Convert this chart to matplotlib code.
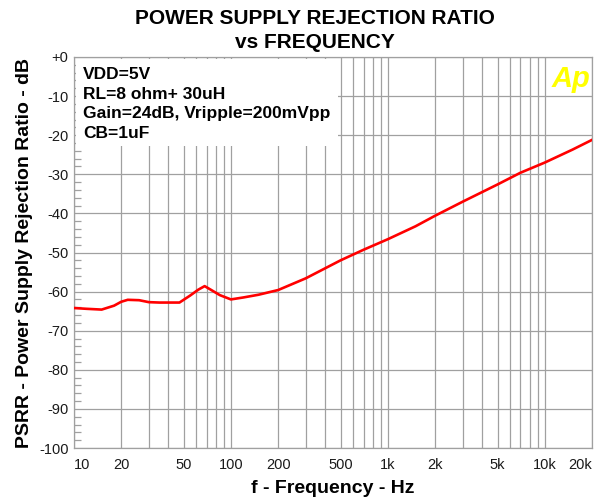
import matplotlib
matplotlib.use("Agg")
import matplotlib.pyplot as plt
from matplotlib.patches import Rectangle
from matplotlib.ticker import MultipleLocator, LogLocator, NullFormatter

plt.rcParams["font.family"] = ["Liberation Sans", "DejaVu Sans"]

# data
freq_hz = [10, 12, 15, 18, 20, 22, 26, 30, 35, 47, 55, 62, 68, 75, 85,
           100, 120, 150, 200, 300, 500, 700, 1000, 1500, 2000, 3000,
           5000, 7000, 10000, 15000, 20000]
psrr_db = [-64.2, -64.4, -64.6, -63.6, -62.6, -62.1, -62.2, -62.7, -62.8,
           -62.8, -61.0, -59.5, -58.6, -59.6, -60.9, -62.0, -61.5, -60.8,
           -59.6, -56.6, -52.0, -49.3, -46.6, -43.3, -40.6, -37.0, -32.6,
           -29.6, -27.0, -23.7, -21.2]

x_ticks = [10, 20, 50, 100, 200, 500, 1000, 2000, 5000, 10000, 20000]
x_labels = ["10", "20", "50", "100", "200", "500", "1k", "2k", "5k", "10k", "20k"]
y_ticks = [0, -10, -20, -30, -40, -50, -60, -70, -80, -90, -100]
y_labels = ["+0", "-10", "-20", "-30", "-40", "-50", "-60", "-70", "-80", "-90", "-100"]

conditions = ["VDD=5V", "RL=8 ohm+ 30uH", "Gain=24dB, Vripple=200mVpp", "CB=1uF"]

grid_color = "#a0a0a0"
text_color = "#1a1a1a"

fig = plt.figure(figsize=(6.03, 5.01), dpi=100)
ax = fig.add_subplot(111)
fig.subplots_adjust(left=74 / 603, right=592 / 603, top=1 - 57 / 501, bottom=1 - 448 / 501)

ax.set_xscale("log")
ax.set_xlim(10, 20000)
ax.set_ylim(-100, 0)

# grid
ax.xaxis.set_minor_locator(LogLocator(base=10, subs=range(1, 10), numticks=20))
ax.xaxis.set_minor_formatter(NullFormatter())
ax.set_xticks(x_ticks, x_labels)
ax.set_yticks(y_ticks, y_labels)
ax.yaxis.set_minor_locator(MultipleLocator(2))
ax.set_axisbelow(True)
ax.grid(True, which="both", axis="x", color=grid_color, linewidth=0.9)
ax.grid(True, which="major", axis="y", color=grid_color, linewidth=0.9)

ax.tick_params(axis="x", which="both", length=0, pad=7, labelsize=10.5, labelcolor=text_color)
ax.tick_params(axis="y", which="major", length=0, pad=4, labelsize=10.5, labelcolor=text_color)
ax.tick_params(axis="y", which="minor", direction="in", length=5, width=0.9, color=grid_color)
for lab in ax.get_xticklabels():
    if lab.get_text() == "10":
        lab.set_horizontalalignment("left")
    elif lab.get_text() == "20k":
        lab.set_horizontalalignment("right")
for sp in ax.spines.values():
    sp.set_color(grid_color)
    sp.set_linewidth(0.9)

# conditions box (hides the grid behind it)
ax.add_patch(Rectangle((0.003, 0.773), 0.507, 0.222, transform=ax.transAxes,
                       facecolor="white", edgecolor="none", zorder=1.5))
ax.text(0.018, 0.975, "\n".join(conditions), transform=ax.transAxes,
        ha="left", va="top", fontsize=12.5, fontweight="bold", color="black",
        linespacing=1.4, zorder=2)

ax.text(0.996, 0.98, "Ap", transform=ax.transAxes, ha="right", va="top",
        fontsize=21, fontweight="bold", fontstyle="italic", color="#ffff00", zorder=2)

ax.plot(freq_hz, psrr_db, color="#ff0000", linewidth=1.9, zorder=3)

fig.text(315 / 603, 1 - 9 / 501, "POWER SUPPLY REJECTION RATIO\nvs FREQUENCY",
         ha="center", va="top", ma="center", fontsize=15, fontweight="bold",
         linespacing=1.3)
ax.set_xlabel("f - Frequency - Hz", fontsize=14, fontweight="bold", labelpad=6)
ax.set_ylabel("PSRR - Power Supply Rejection Ratio - dB", fontsize=14,
              fontweight="bold", labelpad=4)

fig.savefig("out.png", dpi=100)
